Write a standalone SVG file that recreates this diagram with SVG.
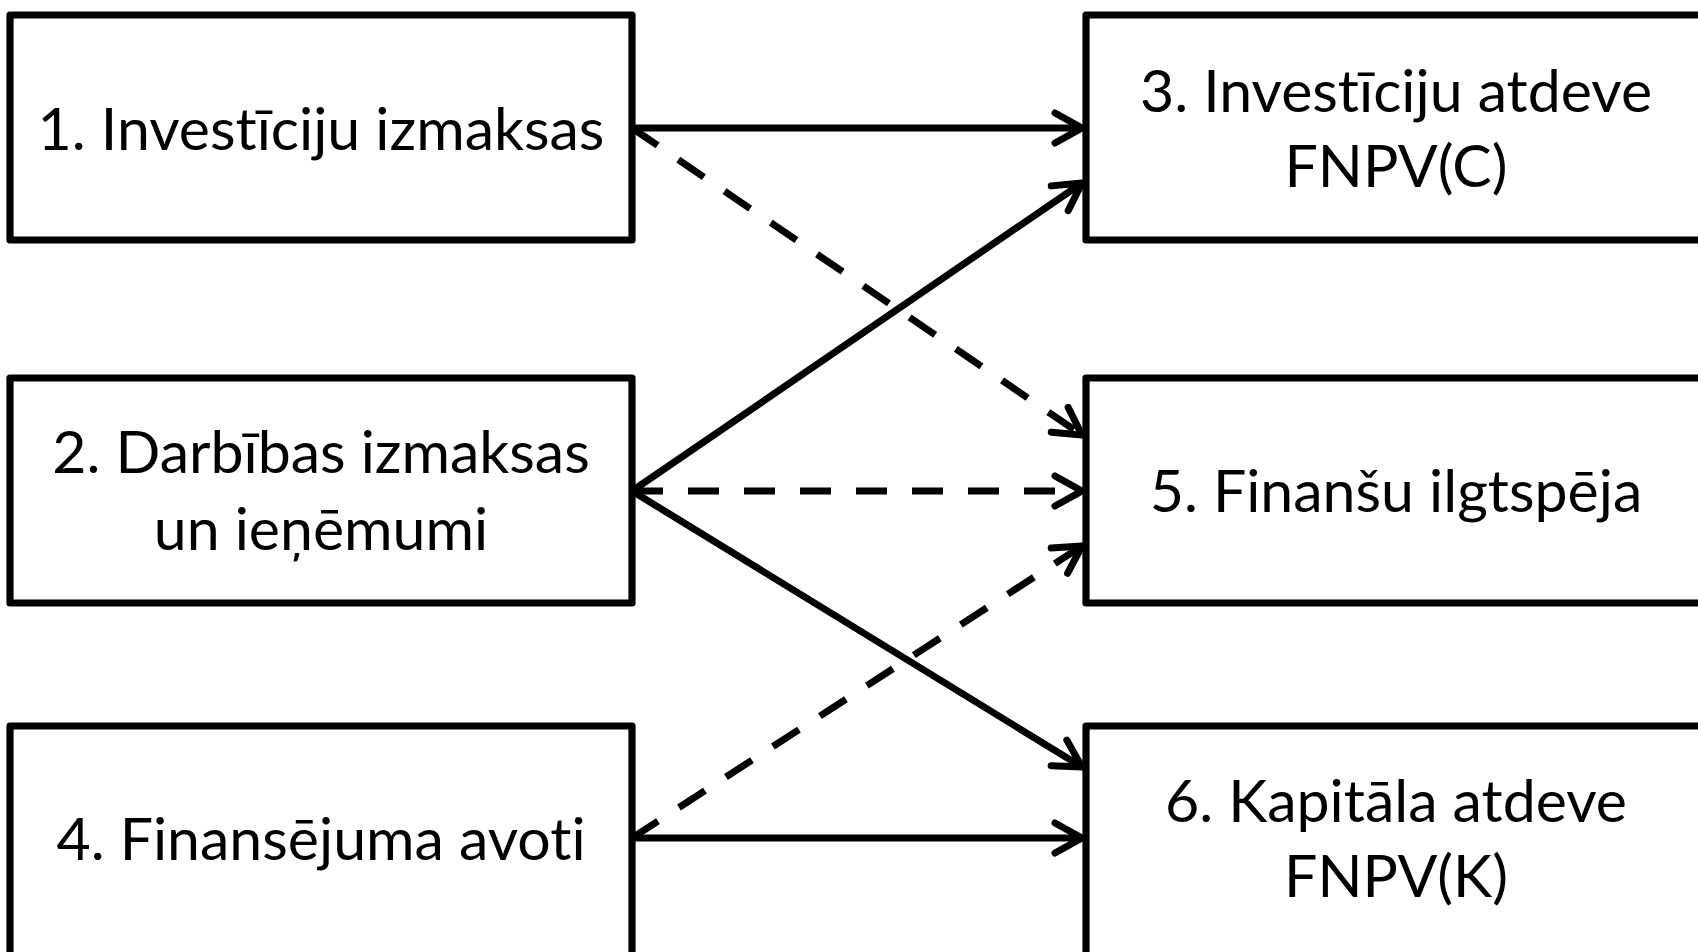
<svg xmlns="http://www.w3.org/2000/svg" width="1698" height="952" viewBox="0 0 1698 952">
<style>
.box{fill:#fff;stroke:#000;stroke-width:7.2;stroke-linejoin:round}
.lbl{font-family:Lato,"Liberation Sans",sans-serif;font-size:59px;fill:#000;text-anchor:middle;font-variant-ligatures:none;font-feature-settings:"liga" 0,"clig" 0}
.c{fill:none;stroke:#000;stroke-width:7}
.d{stroke-dasharray:31 25}
</style>
<defs>
<marker id="ah" markerUnits="userSpaceOnUse" markerWidth="50" markerHeight="50" viewBox="-40 -25 50 50" refX="0" refY="0" orient="auto" overflow="visible">
<path d="M-27,-15 L0,0 L-27,15" fill="none" stroke="#000" stroke-width="7" stroke-linecap="round" stroke-linejoin="round" stroke-dasharray="none"/>
</marker>
</defs>
<rect width="1698" height="952" fill="#fff"/>
<g id="connectors">
<line class="c" x1="632" y1="128" x2="1082" y2="128" marker-end="url(#ah)"/>
<line class="c d" x1="632" y1="128" x2="1082" y2="435" marker-end="url(#ah)"/>
<line class="c" x1="632" y1="491" x2="1082" y2="183" marker-end="url(#ah)"/>
<line class="c d" x1="632" y1="491" x2="1082" y2="491" marker-end="url(#ah)"/>
<line class="c" x1="632" y1="491" x2="1082" y2="767" marker-end="url(#ah)"/>
<line class="c d" x1="632" y1="838" x2="1082" y2="546" marker-end="url(#ah)"/>
<line class="c" x1="632" y1="838" x2="1082" y2="838" marker-end="url(#ah)"/>
</g>
<g id="n1"><rect class="box" x="10" y="15" width="622" height="225"/><text class="lbl" x="321" y="150">1. Investīciju izmaksas</text></g>
<g id="n2"><rect class="box" x="10" y="378" width="622" height="225"/><text class="lbl" x="321" y="473">2. Darbības izmaksas</text><text class="lbl" x="321" y="550">un ieņēmumi</text></g>
<g id="n4"><rect class="box" x="10" y="726" width="622" height="240"/><text class="lbl" x="321" y="860">4. Finansējuma avoti</text></g>
<g id="n3"><rect class="box" x="1086" y="15" width="640" height="225"/><text class="lbl" x="1396" y="112">3. Investīciju atdeve</text><text class="lbl" x="1396" y="187">FNPV(C)</text></g>
<g id="n5"><rect class="box" x="1086" y="378" width="640" height="225"/><text class="lbl" x="1396" y="512">5. Finanšu ilgtspēja</text></g>
<g id="n6"><rect class="box" x="1086" y="726" width="640" height="240"/><text class="lbl" x="1396" y="822">6. Kapitāla atdeve</text><text class="lbl" x="1396" y="897">FNPV(K)</text></g>
</svg>
